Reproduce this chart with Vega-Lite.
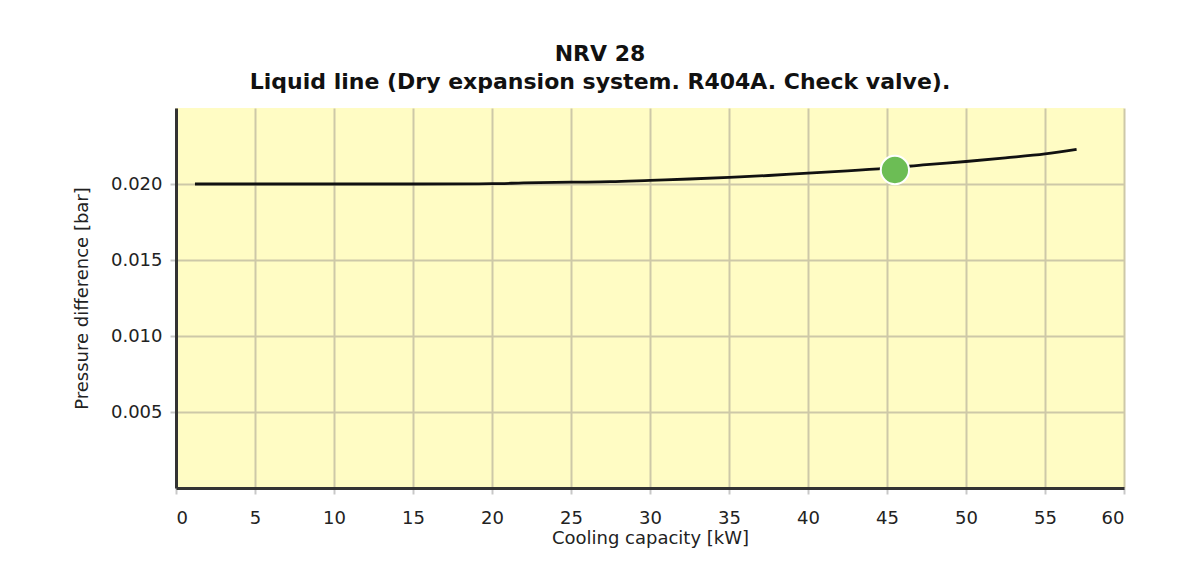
{
  "$schema": "https://vega.github.io/schema/vega-lite/v6.json",
  "width": 948,
  "height": 380,
  "autosize": {"type": "none"},
  "padding": {"left": 176, "top": 108, "right": 61, "bottom": 88},
  "background": "white",
  "title": {
    "text": ["NRV 28", "Liquid line (Dry expansion system. R404A. Check valve)."],
    "font": "DejaVu Sans",
    "fontSize": 22,
    "fontWeight": "bold",
    "color": "#111111",
    "lineHeight": 28,
    "anchor": "middle",
    "dx": -50,
    "offset": 14
  },
  "config": {
    "view": {"fill": "#fffcc4", "stroke": null},
    "axis": {
      "labelFont": "DejaVu Sans",
      "titleFont": "DejaVu Sans",
      "labelFontSize": 18,
      "titleFontSize": 18,
      "titleFontWeight": "normal",
      "labelColor": "#222222",
      "titleColor": "#222222",
      "gridColor": "#cdc8a8",
      "gridWidth": 2,
      "gridOpacity": 1,
      "domainColor": "#333333",
      "domainWidth": 3,
      "tickColor": "#c8c8c8",
      "tickWidth": 2,
      "tickSize": 6
    }
  },
  "data": {
    "values": [
      {"kw": 1.2, "dp": 0.0200},
      {"kw": 5, "dp": 0.0200},
      {"kw": 10, "dp": 0.0200},
      {"kw": 15, "dp": 0.0200},
      {"kw": 20, "dp": 0.02002},
      {"kw": 22, "dp": 0.02007},
      {"kw": 25, "dp": 0.02012},
      {"kw": 27.5, "dp": 0.02015},
      {"kw": 30, "dp": 0.02024},
      {"kw": 32.5, "dp": 0.02033},
      {"kw": 35, "dp": 0.02044},
      {"kw": 37.5, "dp": 0.02056},
      {"kw": 40, "dp": 0.02072},
      {"kw": 42.5, "dp": 0.02086},
      {"kw": 45, "dp": 0.02104},
      {"kw": 47.5, "dp": 0.02128},
      {"kw": 50, "dp": 0.02148},
      {"kw": 52.5, "dp": 0.02172},
      {"kw": 55, "dp": 0.02198},
      {"kw": 57, "dp": 0.02228}
    ]
  },
  "layer": [
    {
      "mark": {"type": "line", "color": "#111111", "strokeWidth": 2.8, "interpolate": "monotone"},
      "encoding": {
        "x": {
          "field": "kw", "type": "quantitative",
          "scale": {"domain": [0, 60], "nice": false},
          "axis": {"values": [0,5,10,15,20,25,30,35,40,45,50,55,60], "title": "Cooling capacity [kW]", "labelPadding": 15, "titlePadding": 2}
        },
        "y": {
          "field": "dp", "type": "quantitative",
          "scale": {"domain": [0, 0.025], "nice": false, "zero": true},
          "axis": {"values": [0.005, 0.010, 0.015, 0.020], "format": ".3f", "title": "Pressure difference [bar]", "labelPadding": 8, "titlePadding": 19}
        }
      }
    },
    {
      "data": {"values": [{"kw": 45.5, "dp": 0.02092}]},
      "mark": {"type": "point", "filled": true, "fill": "#6cbd55", "stroke": "white", "strokeWidth": 2, "size": 800, "opacity": 1},
      "encoding": {
        "x": {"field": "kw", "type": "quantitative"},
        "y": {"field": "dp", "type": "quantitative"}
      }
    }
  ]
}
